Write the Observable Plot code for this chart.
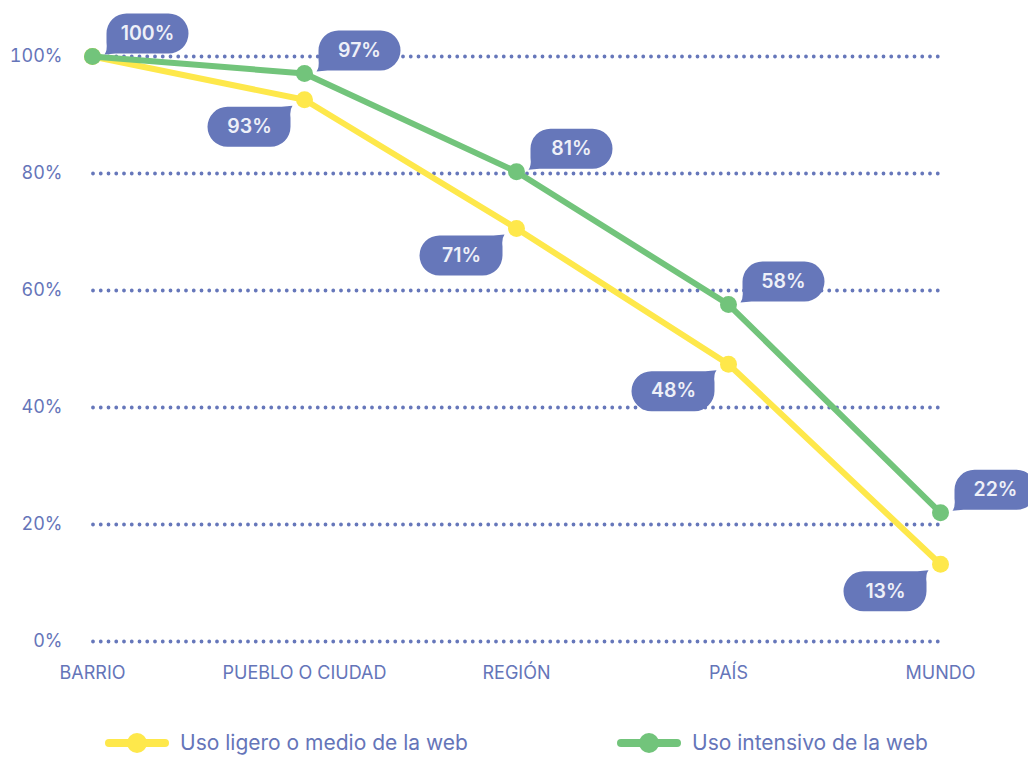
<!DOCTYPE html>
<html>
<head>
<meta charset="utf-8">
<script src="https://cdn.jsdelivr.net/npm/d3@7"></script>
<script src="https://cdn.jsdelivr.net/npm/@observablehq/plot@0.6"></script>
<style>
  html, body { margin: 0; padding: 0; background: #fff; overflow: hidden; }
  #wrap { width: 1028px; height: 758px; position: relative; font-family: Inter, Lato, sans-serif; }
  #legend { position: relative; height: 46px; }
  .lg { position: absolute; top: 0; display: flex; align-items: center; height: 40px; }
  .lg span { font-size: 21px; line-height: 26px; color: #6575b9; margin-left: 11px; }
</style>
</head>
<body>
<div id="wrap">
  <div id="chart"></div>
  <div id="legend"></div>
</div>
<script>
// ---- data ----
const categories = ["BARRIO", "PUEBLO O CIUDAD", "REGIÓN", "PAÍS", "MUNDO"];
const lightValues = [100, 92.6, 70.6, 47.4, 13.2];   // Uso ligero o medio de la web
const heavyValues = [100, 97.1, 80.3, 57.6, 22.0];   // Uso intensivo de la web
const lightLabels = [null, "93%", "71%", "48%", "13%"];
const heavyLabels = ["100%", "97%", "81%", "58%", "22%"];
const yTicks = [0, 20, 40, 60, 80, 100];
const seriesNames = ["Uso ligero o medio de la web", "Uso intensivo de la web"];

// ---- styles ----
const YELLOW = "#fee84b";
const GREEN = "#72c47b";
const BLUE = "#6677ba";
const TEXT = "#6575b9";

const light = categories.map((c, i) => ({cat: c, v: lightValues[i], label: lightLabels[i]}));
const heavy = categories.map((c, i) => ({cat: c, v: heavyValues[i], label: heavyLabels[i]}));

// speech bubble symbol: s = 1 -> up-right of point (tail bottom-left), s = -1 -> down-left (tail top-right)
function bubble(s, x0, x1, y0, y1) {
  return {
    draw(ctx) {
      const r = (y1 - y0) / 2;
      const P = (x, y) => [s * x, s * y];
      const rot = s < 0 ? Math.PI : 0;
      let p = P(x0 + r, y0); ctx.moveTo(p[0], p[1]);
      p = P(x1 - r, y0); ctx.lineTo(p[0], p[1]);
      p = P(x1 - r, y0 + r); ctx.arc(p[0], p[1], r, -Math.PI / 2 + rot, Math.PI / 2 + rot);
      p = P(x0 + 9, y1); ctx.lineTo(p[0], p[1]);
      p = P(x0 - 2, y1 + 1); ctx.lineTo(p[0], p[1]);
      const c = P(x0 + 1, y1 - 3), e = P(x0, y1 - 11);
      ctx.quadraticCurveTo(c[0], c[1], e[0], e[1]);
      p = P(x0, y0 + r); ctx.lineTo(p[0], p[1]);
      p = P(x0 + r, y0 + r); ctx.arc(p[0], p[1], r, Math.PI + rot, 1.5 * Math.PI + rot);
      ctx.closePath();
    }
  };
}
const upBubble = bubble(1, 14, 96, -43, -3);
const downBubble = bubble(-1, 14, 97, -47, -7);

const chart = Plot.plot({
  width: 1028,
  height: 712,
  marginLeft: 91,
  marginRight: 88,
  marginTop: 56,
  marginBottom: 71,
  style: {fontFamily: "Inter, Lato, sans-serif", fontSize: "18px", color: TEXT, background: "transparent", overflow: "visible"},
  x: {type: "point", domain: categories, padding: 0},
  y: {domain: [0, 100]},
  marks: [
    Plot.ruleY(yTicks, {stroke: BLUE, strokeWidth: 3.8, strokeDasharray: "0 7.75", strokeLinecap: "round", dx: 2}),
    Plot.axisY({ticks: yTicks, tickFormat: d => d + "%", tickSize: 0, tickPadding: 29, label: null, fontSize: 18}),
    Plot.axisX({tickSize: 0, tickPadding: 25, label: null, fontSize: 18}),
    Plot.line(light, {x: "cat", y: "v", stroke: YELLOW, strokeWidth: 6}),
    Plot.dot(light, {x: "cat", y: "v", fill: YELLOW, r: 8.5}),
    Plot.line(heavy, {x: "cat", y: "v", stroke: GREEN, strokeWidth: 6}),
    Plot.dot(heavy, {x: "cat", y: "v", fill: GREEN, r: 8.5}),
    Plot.dot(light.filter(d => d.label), {x: "cat", y: "v", symbol: downBubble, fill: BLUE, r: 10}),
    Plot.dot(heavy, {x: "cat", y: "v", symbol: upBubble, fill: BLUE, r: 10}),
    Plot.text(light.filter(d => d.label), {x: "cat", y: "v", text: "label", dx: -55, dy: 27, fill: "#eef0f8", fontSize: 19.5, fontWeight: 600}),
    Plot.text(heavy, {x: "cat", y: "v", text: "label", dx: 55, dy: -23, fill: "#eef0f8", fontSize: 19.5, fontWeight: 600})
  ]
});
document.getElementById("chart").appendChild(chart);

// legend
const legend = document.getElementById("legend");
const legendItems = [
  {name: seriesNames[0], color: YELLOW, left: 105},
  {name: seriesNames[1], color: GREEN, left: 617}
];
for (const it of legendItems) {
  const div = document.createElement("div");
  div.className = "lg";
  div.style.left = it.left + "px";
  div.style.top = "11px";
  div.innerHTML = `<svg width="64" height="24"><line x1="4" x2="60" y1="12" y2="12" stroke="${it.color}" stroke-width="8" stroke-linecap="round"/><circle cx="32" cy="12" r="10" fill="${it.color}"/></svg><span>${it.name}</span>`;
  legend.appendChild(div);
}
</script>
</body>
</html>
